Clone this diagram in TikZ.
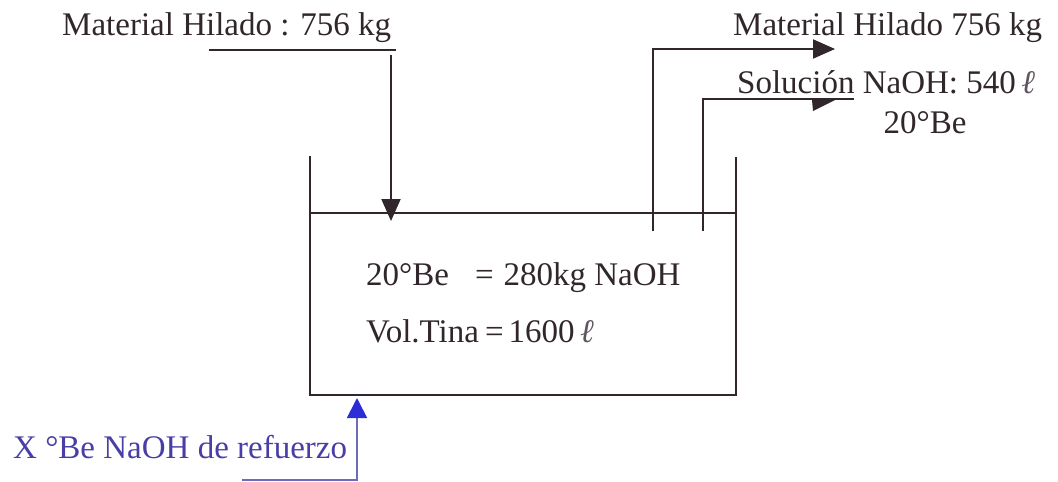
\documentclass[tikz,border=0pt]{standalone}
\usepackage{fontspec}
\setmainfont{Liberation Serif}
\usetikzlibrary{arrows.meta}
\definecolor{ink}{RGB}{48,38,44}
\definecolor{bluetxt}{RGB}{72,62,165}
\definecolor{blueline}{RGB}{110,108,185}
\definecolor{bluehead}{RGB}{45,45,215}
\definecolor{ellgray}{RGB}{95,85,95}
\tikzset{
  wall/.style={draw=ink,line width=2pt},
  flow/.style={draw=ink,line width=2pt,-{Triangle[length=22pt,width=19pt]}},
  lbl/.style={inner sep=0pt,anchor=base west,text=ink,font=\fontsize{33}{40}\selectfont},
}
\newcommand{\litro}{\textcolor{ellgray}{\itshape ℓ}}
\begin{document}
\begin{tikzpicture}[x=1pt,y=-1pt]
\useasboundingbox (0,0) rectangle (1058,482);
% tank
\coordinate (tl) at (310,156);
\coordinate (bl) at (310,395);
\coordinate (br) at (736,395);
\coordinate (tr) at (736,157);
\coordinate (ll) at (310,213);
\coordinate (lr) at (736,213);
\draw[wall] (tl) -- (bl) -- (br) -- (tr);
\draw[wall] (ll) -- (lr);
% texts
\node[lbl] (in) at (62,35) {Material Hilado : 756 kg};
\node[lbl] (out1) at (733,35) {Material Hilado 756 kg};
\node[lbl] (out2) at (737,93) {Soluci\'on NaOH: 540\,\litro};
\node[lbl,anchor=base] (out3) at (925,133) {20°Be};
\node[lbl] (c1) at (366,285) {20°Be\hspace{26pt}=\hspace{10pt}280kg NaOH};
\node[lbl] (c2) at (366,342) {Vol.Tina\hspace{6pt}=\hspace{5pt}1600\,\litro};
\node[lbl,text=bluetxt] (x) at (13,458) {X °Be NaOH de refuerzo};
% input
\coordinate (ul1) at (209,50);
\coordinate (ul2) at (396,50);
\coordinate (inA) at (391,55);
\coordinate (inB) at (391,221);
\draw[wall,line width=1.8pt] (ul1) -- (ul2);
\draw[flow] (inA) -- (inB);
% outlet 1
\coordinate (p1b) at (653,231);
\coordinate (p1e) at (835,49);
\draw[flow] (p1b) |- (p1e);
% outlet 2
\coordinate (p2b) at (703,231);
\coordinate (p2e) at (735,99);
\draw[wall] (p2b) |- (p2e);
\coordinate (u2a) at (733,99);
\coordinate (u2b) at (854,99);
\draw[wall,line width=1.8pt] (u2a) -- (u2b);
\fill[ink] (812,100) -- (835,100) -- (813,111) -- cycle;
% reinforcement
\coordinate (rA) at (242,480);
\coordinate (rB) at (357,480);
\coordinate (rC) at (357,398);
\draw[draw=blueline,line width=1.8pt,-{Triangle[length=20pt,width=20pt,color=bluehead]}] (rA) -- (rB) -- (rC);
\end{tikzpicture}
\end{document}
